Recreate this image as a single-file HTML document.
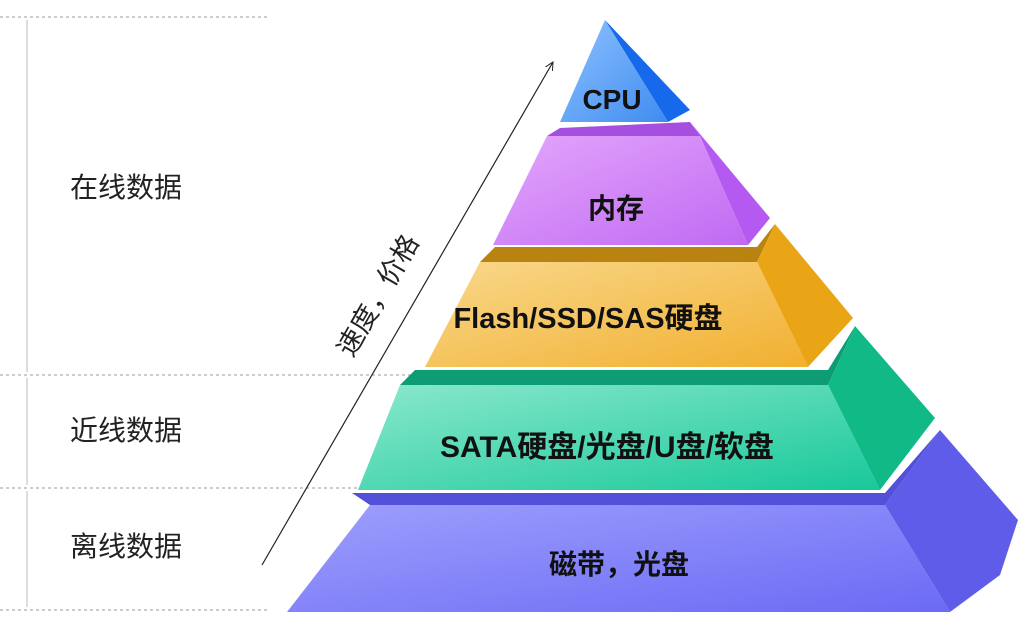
<!DOCTYPE html>
<html><head><meta charset="utf-8"><style>
body{margin:0;background:#fff;width:1026px;height:624px;overflow:hidden;font-family:"Liberation Sans","Noto Sans CJK SC",sans-serif}
</style></head><body>
<svg width="1026" height="624" xmlns="http://www.w3.org/2000/svg" style="font-family:'Liberation Sans','Noto Sans CJK SC',sans-serif">
<defs>
<linearGradient id="cpu" x1="0" y1="0" x2="1" y2="1"><stop offset="0" stop-color="#8fc2ff"/><stop offset="1" stop-color="#3f8cf0"/></linearGradient>
<linearGradient id="mem" x1="0" y1="0" x2="1" y2="1"><stop offset="0" stop-color="#e4a6fb"/><stop offset="1" stop-color="#c06af3"/></linearGradient>
<linearGradient id="fl" x1="0" y1="0" x2="1" y2="1"><stop offset="0" stop-color="#f9d88c"/><stop offset="1" stop-color="#f1b030"/></linearGradient>
<linearGradient id="sa" x1="0" y1="0" x2="1" y2="1"><stop offset="0" stop-color="#8ae8cc"/><stop offset="1" stop-color="#18c89a"/></linearGradient>
<linearGradient id="tp" x1="0" y1="0" x2="1" y2="1"><stop offset="0" stop-color="#9e9ffd"/><stop offset="1" stop-color="#6b6af5"/></linearGradient>
<marker id="ah" markerWidth="10" markerHeight="10" refX="8" refY="5" orient="auto" markerUnits="userSpaceOnUse"><path d="M0,1 L8,5 L0,9" fill="none" stroke="#222" stroke-width="1"/></marker>
</defs>
<g stroke="#999" stroke-dasharray="3,3" stroke-width="1">
<line x1="0" y1="17" x2="270" y2="17"/><line x1="0" y1="375" x2="415" y2="375"/>
<line x1="0" y1="488" x2="360" y2="488"/><line x1="0" y1="610" x2="270" y2="610"/>
</g>
<g stroke="#bbb" stroke-width="1">
<line x1="27" y1="20" x2="27" y2="372"/><line x1="27" y1="378" x2="27" y2="485"/><line x1="27" y1="491" x2="27" y2="607"/>
</g>
<g font-size="28" fill="#222">
<text x="70" y="197">在线数据</text><text x="70" y="440">近线数据</text><text x="70" y="556">离线数据</text>
</g>
<line x1="262" y1="565" x2="553" y2="62" stroke="#222" stroke-width="1.2" marker-end="url(#ah)"/>
<text transform="translate(386,300) rotate(-60)" font-size="27" fill="#222" text-anchor="middle">速度，价格</text>
<polygon points="352,493 885,493 940,430 885,505 370,505" fill="#5250d8"/>
<polygon points="885,505 940,430 1018,520 1000,575 950,612" fill="#5e5ce8"/>
<polygon points="370,505 885,505 950,612 287,612" fill="url(#tp)"/>
<polygon points="415,370 828,370 855,326 828,385 400,385" fill="#0d9c73"/>
<polygon points="828,385 855,326 935,418 880,490" fill="#10b986"/>
<polygon points="400,385 828,385 880,490 358,490" fill="url(#sa)"/>
<polygon points="495,247 757,247 775,224 757,262 480,262" fill="#b88311"/>
<polygon points="757,262 775,224 853,318 808,367" fill="#e9a516"/>
<polygon points="480,262 757,262 808,367 425,367" fill="url(#fl)"/>
<polygon points="560,128 690,122 700,136 547,136" fill="#a64ee0"/>
<polygon points="700,136 690,122 770,218 748,245" fill="#b45af0"/>
<polygon points="547,136 700,136 748,245 493,245" fill="url(#mem)"/>
<polygon points="605,20 690,110 668,122" fill="#1569ea"/>
<polygon points="605,20 668,122 560,122" fill="url(#cpu)"/>
<g font-weight="bold" fill="#111" text-anchor="middle">
<text x="612" y="109" font-size="28">CPU</text>
<text x="616" y="218" font-size="28">内存</text>
<text x="588" y="328" font-size="29">Flash/SSD/SAS硬盘</text>
<text x="607" y="457" font-size="30">SATA硬盘/光盘/U盘/软盘</text>
<text x="619" y="574" font-size="28">磁带，光盘</text>
</g>
</svg>
</body></html>
